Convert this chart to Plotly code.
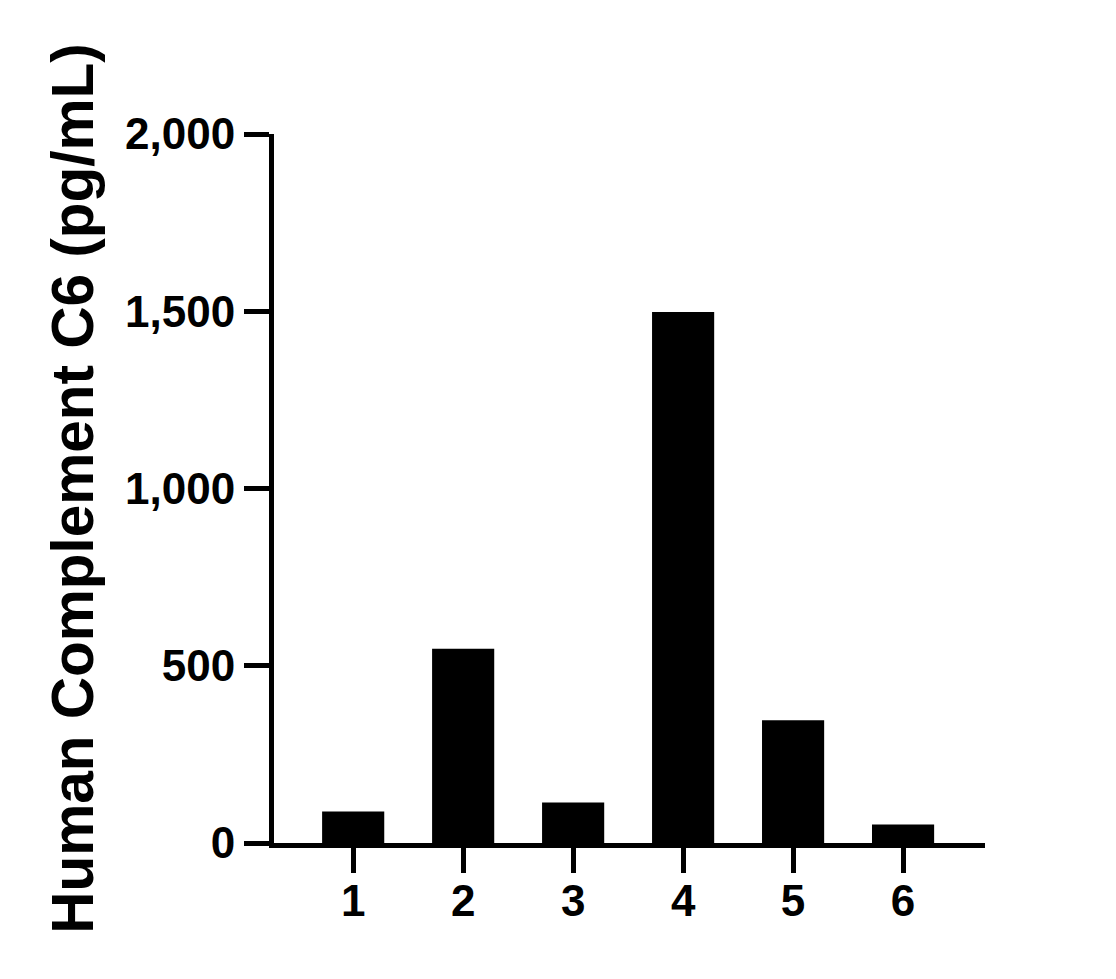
import plotly.graph_objects as go

# sample numbers on the x axis, C6 level
samples = ["1", "2", "3", "4", "5", "6"]
c6_pg_ml = [89, 548, 114, 1498, 346, 52]

y_ticks = [0, 500, 1000, 1500, 2000]
y_tick_text = ["0", "500", "1,000", "1,500", "2,000"]

font_family = "Liberation Sans, Arial, sans-serif"

fig = go.Figure()
fig.add_trace(
    go.Bar(
        x=samples,
        y=c6_pg_ml,
        width=0.565,
        marker=dict(color="black", line=dict(width=0)),
    )
)
# page body has an 8px margin, so the figure is a bit smaller than the window
fig.update_layout(
    width=1108,
    height=971,
    margin=dict(l=266, r=131, t=126, b=136),
    plot_bgcolor="white",
    paper_bgcolor="white",
    showlegend=False,
    font=dict(family=font_family, color="black"),
)
fig.update_xaxes(
    type="category",
    range=[-0.72, 5.745],
    showline=True,
    linewidth=5,
    linecolor="black",
    ticks="outside",
    ticklen=25,
    tickwidth=5,
    tickcolor="black",
    tickfont=dict(family=font_family, size=44, weight="bold"),
    ticklabelstandoff=-10,
    showgrid=False,
    zeroline=False,
)
fig.update_yaxes(
    range=[0, 2000],
    tickvals=y_ticks,
    ticktext=y_tick_text,
    showline=True,
    linewidth=5,
    linecolor="black",
    ticks="outside",
    ticklen=25,
    tickwidth=5,
    tickcolor="black",
    tickfont=dict(family=font_family, size=44, weight="bold"),
    showgrid=False,
    zeroline=False,
    title=dict(
        text="Human Complement C6 (pg/mL)",
        font=dict(family=font_family, size=58.5, weight="bold"),
        standoff=14,
    ),
)
fig.write_html("out.html")
